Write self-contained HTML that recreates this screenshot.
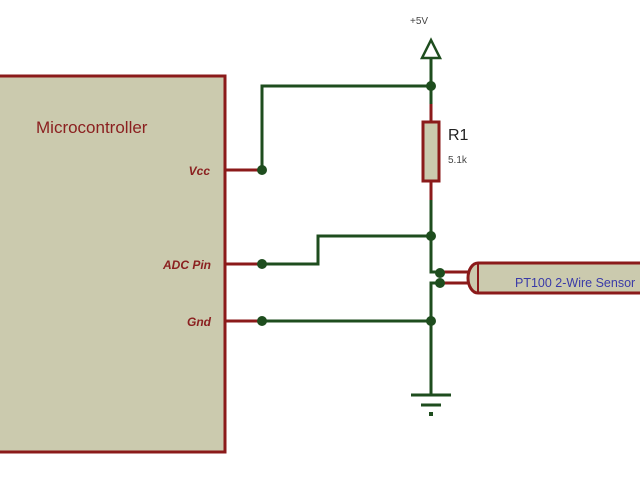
<!DOCTYPE html>
<html><head><meta charset="utf-8"><style>
html,body{margin:0;padding:0;background:#fff;}
svg{display:block;}
</style></head><body>
<svg width="640" height="480" viewBox="0 0 640 480" xmlns="http://www.w3.org/2000/svg" font-family="Liberation Sans, sans-serif">
<rect x="-5" y="76" width="230" height="376" fill="#cbcaae" stroke="#8b1a1a" stroke-width="3"/>
<text x="36" y="133" font-size="17" fill="#8b2020">Microcontroller</text>
<g font-size="12" font-style="italic" font-weight="bold" fill="#8b2020" text-anchor="end">
<text x="210" y="175">Vcc</text>
<text x="211" y="269">ADC Pin</text>
<text x="211" y="326">Gnd</text>
</g>
<g stroke="#8b1a1a" stroke-width="3">
<line x1="225" y1="170" x2="262" y2="170"/>
<line x1="225" y1="264" x2="262" y2="264"/>
<line x1="225" y1="321" x2="262" y2="321"/>
<line x1="431" y1="104" x2="431" y2="200"/>
<line x1="440" y1="272" x2="470" y2="272"/>
<line x1="440" y1="283" x2="470" y2="283"/>
</g>
<rect x="423" y="122" width="16" height="59" fill="#cbcaae" stroke="#8b1a1a" stroke-width="3"/>
<path d="M478,263 L645,263 L645,293 L478,293 A10,15 0 0 1 478,263 Z" fill="#cbcaae" stroke="#8b1a1a" stroke-width="3"/>
<line x1="478" y1="264" x2="478" y2="292" stroke="#8b1a1a" stroke-width="2"/>
<text x="515" y="287" font-size="12.5" fill="#3a3aa8">PT100 2-Wire Sensor</text>
<g stroke="#1e4d1e" stroke-width="3" fill="none">
<polyline points="262,170 262,86 431,86"/>
<line x1="431" y1="40" x2="431" y2="104"/>
<polyline points="262,264 318,264 318,236 431,236"/>
<line x1="262" y1="321" x2="431" y2="321"/>
<polyline points="431,200 431,272 440,272"/>
<polyline points="440,283 431,283 431,395"/>
<line x1="411" y1="395" x2="451" y2="395"/>
<line x1="421" y1="405" x2="441" y2="405"/>
<polygon points="431,40 422,58 440,58" stroke-width="2.5" fill="#fff"/>
</g>
<rect x="429" y="412" width="4" height="4" fill="#1e4d1e"/>
<g fill="#1e4d1e">
<circle cx="262" cy="170" r="5"/>
<circle cx="262" cy="264" r="5"/>
<circle cx="262" cy="321" r="5"/>
<circle cx="431" cy="86" r="5"/>
<circle cx="431" cy="236" r="5"/>
<circle cx="431" cy="321" r="5"/>
<circle cx="440" cy="273" r="5"/>
<circle cx="440" cy="283" r="5"/>
</g>
<text x="410" y="24" font-size="10" fill="#444">+5V</text>
<text x="448" y="140" font-size="16" fill="#222">R1</text>
<text x="448" y="163" font-size="10" fill="#444">5.1k</text>
</svg>
</body></html>
